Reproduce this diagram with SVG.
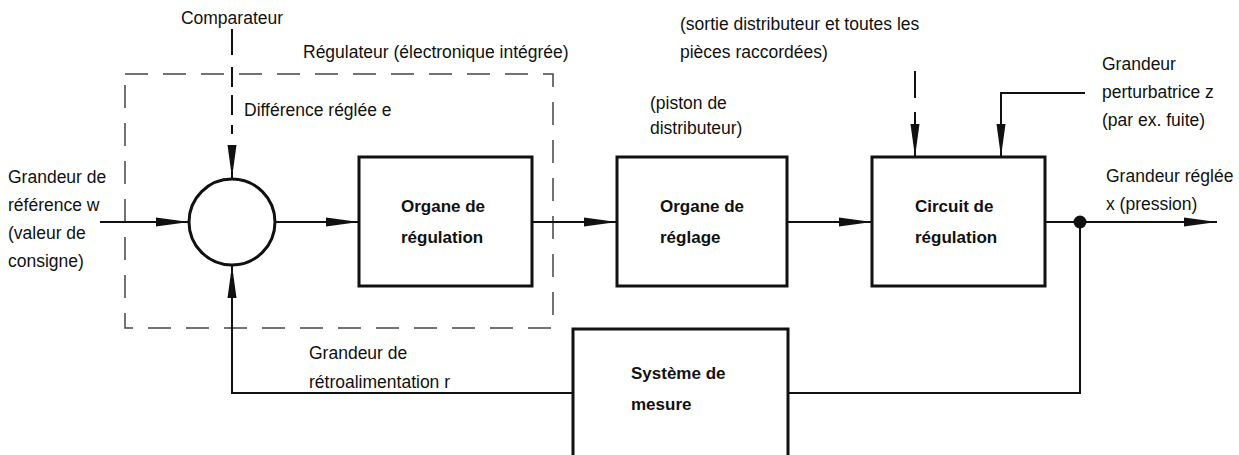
<svg xmlns="http://www.w3.org/2000/svg" width="1239" height="455" viewBox="0 0 1239 455">
<style>
text{font-family:"Liberation Sans",Arial,sans-serif;font-size:17.5px;fill:#111}
.b{font-weight:bold;font-size:17px}
.box{fill:#fff;stroke:#111;stroke-width:3}
.ln{fill:none;stroke:#111;stroke-width:2}
.dash{fill:none;stroke:#444;stroke-width:1.5;stroke-dasharray:23 15}
</style>
<defs>
<marker id="ah" markerUnits="userSpaceOnUse" markerWidth="34" markerHeight="10" refX="33" refY="5" orient="auto">
<path d="M0,0.5 L33,5 L0,9.5 z" fill="#111"/>
</marker>
</defs>
<rect width="1239" height="455" fill="#fff"/>
<g id="regulateur">
<rect class="dash" x="125" y="74" width="428" height="254"/>
<text x="303" y="58">Régulateur (électronique intégrée)</text>
</g>
<g id="connectors">
<path class="ln" d="M232,29 V55 M232,67 V87 M232,95 V115 M232,125 V134"/>
<path class="ln" d="M232,145 V178" marker-end="url(#ah)"/>
<path class="ln" d="M100,222 H189" marker-end="url(#ah)"/>
<path class="ln" d="M275,222 H359" marker-end="url(#ah)"/>
<path class="ln" d="M532,222 H617" marker-end="url(#ah)"/>
<path class="ln" d="M787,222 H872" marker-end="url(#ah)"/>
<path class="ln" d="M1045,222 H1217" marker-end="url(#ah)"/>
<path class="ln" d="M915,71 V98"/>
<path class="ln" d="M915,112 V157" marker-end="url(#ah)"/>
<path class="ln" d="M1085,93 H1001 V157" marker-end="url(#ah)"/>
<path class="ln" d="M1080,222 V393 H788"/>
<path class="ln" d="M573,393 H232 V265" marker-end="url(#ah)"/>
<circle cx="1080" cy="222" r="6.5" fill="#111"/>
</g>
<g id="comparateur">
<circle cx="232" cy="222" r="43" fill="#fff" stroke="#111" stroke-width="3"/>
<text x="232" y="24" text-anchor="middle">Comparateur</text>
<text x="244" y="116">Différence réglée e</text>
</g>
<g id="entree">
<text x="8" y="183">Grandeur de</text>
<text x="8" y="211">référence w</text>
<text x="8" y="239">(valeur de</text>
<text x="8" y="267">consigne)</text>
</g>
<g id="organe-regulation">
<rect class="box" x="359" y="157" width="173" height="129"/>
<text class="b" x="401" y="212">Organe de</text>
<text class="b" x="401" y="243">régulation</text>
</g>
<g id="organe-reglage">
<rect class="box" x="617" y="157" width="170" height="129"/>
<text x="650" y="109">(piston de</text>
<text x="650" y="134">distributeur)</text>
<text class="b" x="660" y="212">Organe de</text>
<text class="b" x="660" y="243">réglage</text>
</g>
<g id="circuit-regulation">
<rect class="box" x="872" y="157" width="173" height="129"/>
<text x="680" y="30">(sortie distributeur et toutes les</text>
<text x="680" y="58">pièces raccordées)</text>
<text class="b" x="915" y="212">Circuit de</text>
<text class="b" x="915" y="243">régulation</text>
</g>
<g id="perturbation">
<text x="1102" y="70">Grandeur</text>
<text x="1102" y="98">perturbatrice z</text>
<text x="1102" y="126">(par ex. fuite)</text>
</g>
<g id="sortie">
<text x="1106" y="182">Grandeur réglée</text>
<text x="1106" y="210">x (pression)</text>
</g>
<g id="systeme-mesure">
<rect class="box" x="573" y="329" width="215" height="140"/>
<text class="b" x="631" y="379">Système de</text>
<text class="b" x="631" y="410">mesure</text>
</g>
<g id="retro">
<text x="309" y="359">Grandeur de</text>
<text x="309" y="388">rétroalimentation r</text>
</g>
</svg>
